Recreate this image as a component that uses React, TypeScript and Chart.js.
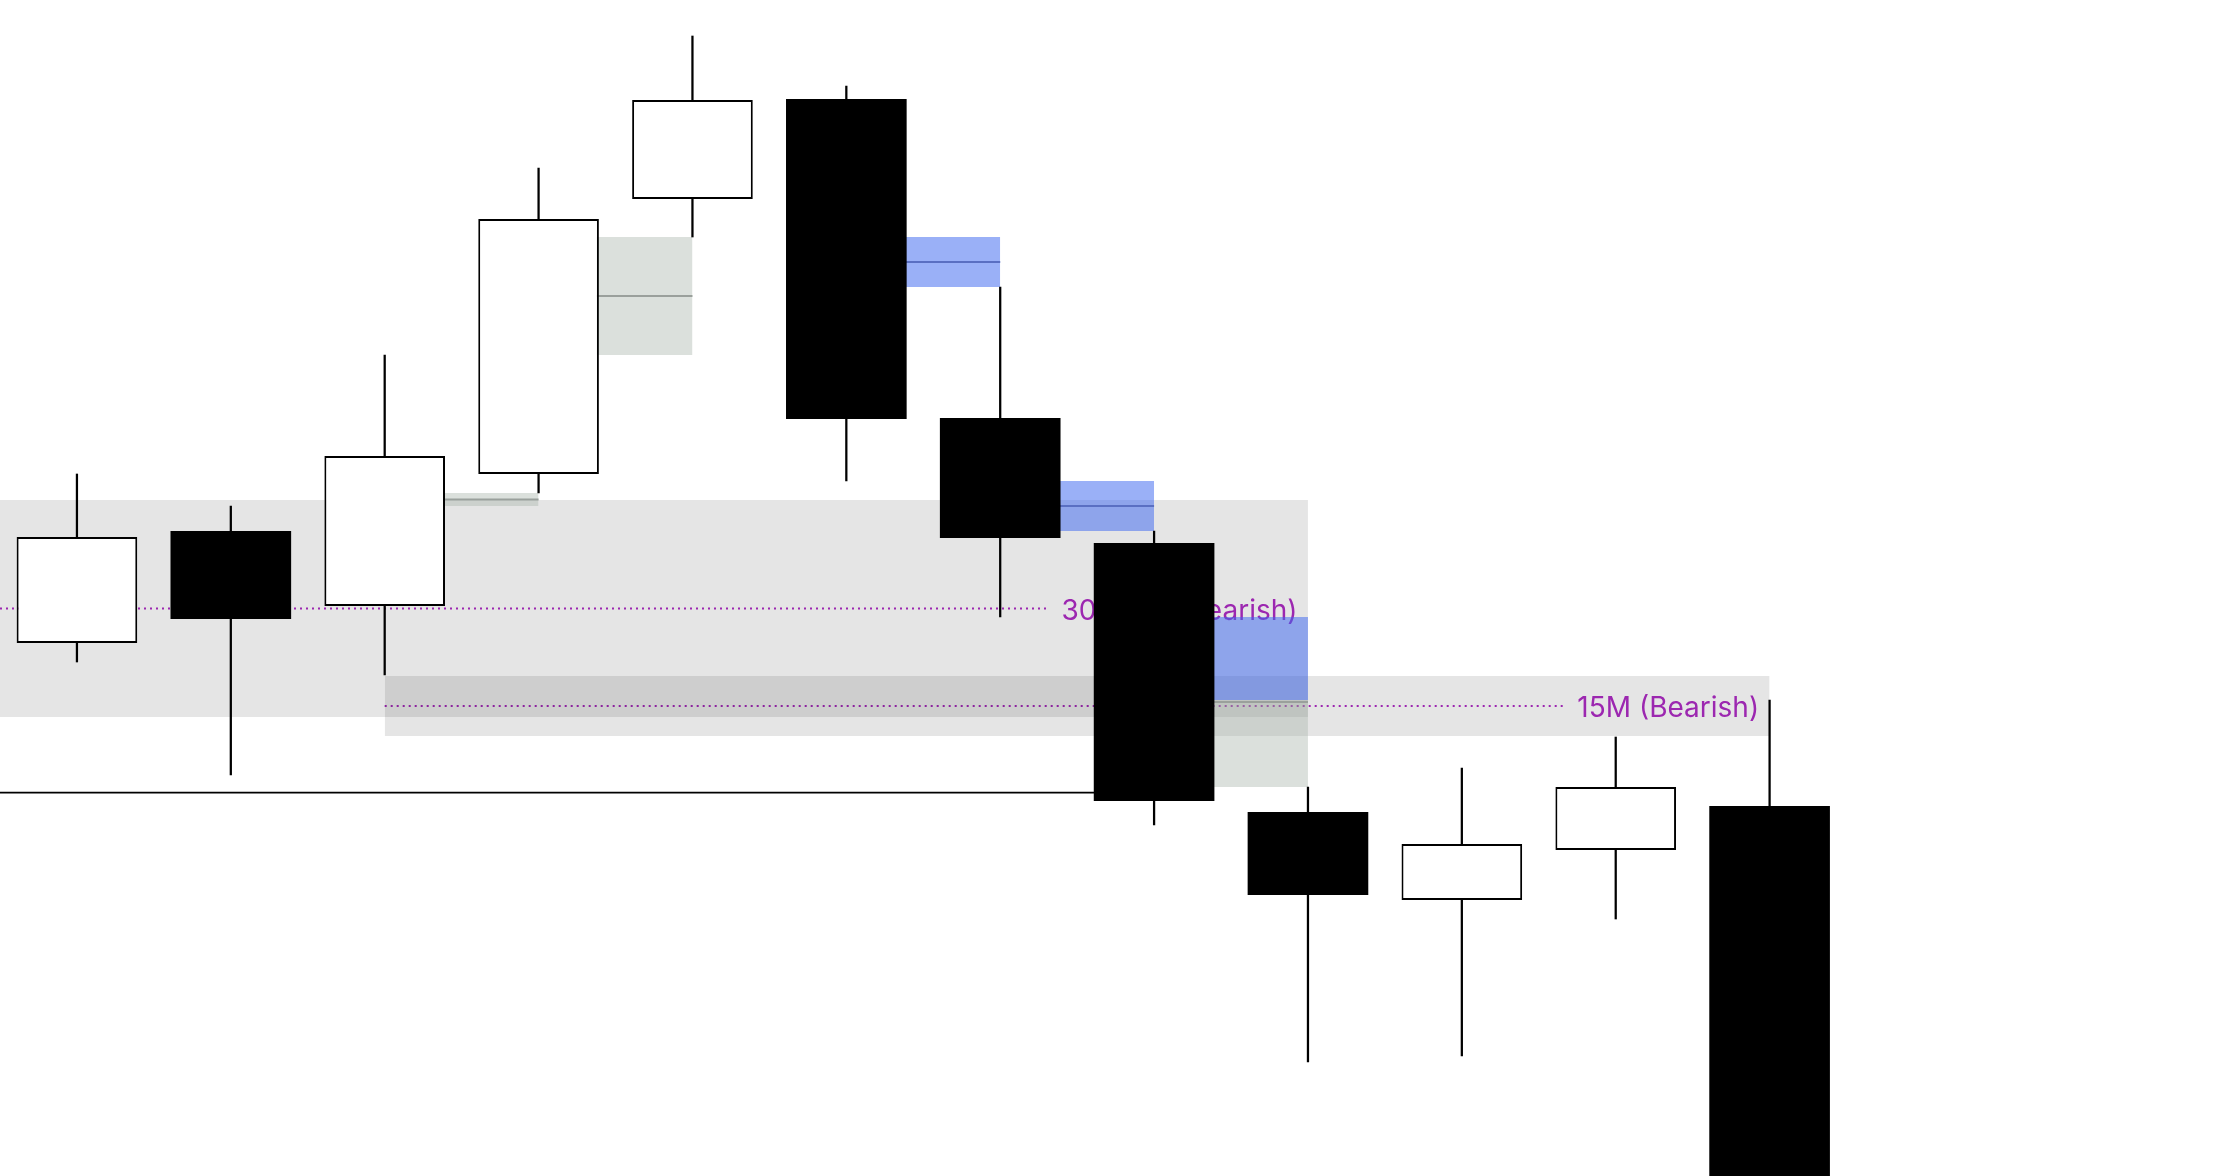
import { useEffect, useRef } from "react";
import { Chart, registerables } from "chart.js";

Chart.register(...registerables);

// ---- candle data (price units) ----
const candleIndex = [0, 1, 2, 3, 4, 5, 6, 7, 8, 9, 10, 11];
const opens = [2353.3, 2364.5, 2357.0, 2370.2, 2397.7, 2407.7, 2375.8, 2363.3, 2336.4, 2327.6, 2332.6, 2337.0];
const highs = [2370.2, 2367.0, 2382.1, 2400.8, 2414.0, 2409.0, 2388.9, 2364.5, 2338.9, 2340.8, 2343.9, 2347.6];
const lows = [2351.4, 2340.1, 2350.1, 2368.3, 2393.9, 2369.5, 2355.9, 2335.1, 2311.4, 2312.0, 2325.7, 2294.6];
const closes = [2363.9, 2355.7, 2372.0, 2395.7, 2407.6, 2375.7, 2363.8, 2337.5, 2328.1, 2333.2, 2338.9, 2297.6];

// ---- higher-timeframe zones ----
const htfLabels = ["30M OB (Bearish)", "15M (Bearish)"];
const htfFrom = [-0.5, 2];
const htfTo = [8, 11];
const htfTop = [2367.6, 2350.0];
const htfBottom = [2345.9, 2344.0];

// ---- horizontal level ----
const levelPrice = [2338.33];
const levelFrom = [-0.5];
const levelTo = [7];

// ---- view range ----
const xRange = [-0.5, 13.94];
const yRange = [2300, 2417.6];

const PURPLE = "#9c27b0";
const BAND_FILL = "rgba(0,0,0,0.1)";
const MITIGATED_FILL = "rgba(170,182,172,0.42)";
const BEAR_FILL = "rgba(62,103,240,0.52)";
const BULL_FILL = "rgba(76,175,80,0.4)";
const MITIGATED_MID = "#9aa09c";
const BEAR_MID = "#5a6fc2";
const BULL_MID = "#3e8e41";
const LABEL_FONT = '28px Inter, "Noto Sans", sans-serif';

type Gap = { from: number; to: number; top: number; bottom: number; bearish: boolean; cut: number };

function findGaps(): Gap[] {
  const out: Gap[] = [];
  for (let i = 0; i + 2 < opens.length; i++) {
    const later = candleIndex.slice(i + 3);
    if (lows[i + 2] > highs[i]) {
      const bottom = highs[i];
      const top = lows[i + 2];
      const reach = later.length ? Math.min(...later.map((k) => lows[k])) : Infinity;
      const cut = Math.max(bottom, Math.min(top, reach));
      out.push({ from: i + 1, to: i + 2, top, bottom, bearish: false, cut });
    } else if (highs[i + 2] < lows[i]) {
      const top = lows[i];
      const bottom = highs[i + 2];
      const reach = later.length ? Math.max(...later.map((k) => highs[k])) : -Infinity;
      const cut = Math.min(top, Math.max(bottom, reach));
      out.push({ from: i + 1, to: i + 2, top, bottom, bearish: true, cut });
    }
  }
  return out;
}

function boxDataset(from: number, to: number, top: number, bottom: number, color: string, order: number, extra: any = {}) {
  return {
    type: "line",
    data: [
      { x: from, y: top },
      { x: to, y: top },
    ],
    fill: { value: bottom },
    backgroundColor: color,
    borderColor: "rgba(0,0,0,0)",
    borderWidth: 0,
    pointRadius: 0,
    tension: 0,
    order,
    ...extra,
  };
}

function lineDataset(from: number, to: number, value: number, color: string, width: number, order: number) {
  return {
    type: "line",
    data: [
      { x: from, y: value },
      { x: to, y: value },
    ],
    fill: false,
    borderColor: color,
    borderWidth: width,
    pointRadius: 0,
    tension: 0,
    order,
  };
}

const bandLabelPlugin = {
  id: "bandLabels",
  afterDatasetDraw(chart: any, args: any) {
    const ds = chart.data.datasets[args.index];
    if (!ds || !ds.band) return;
    const b = ds.band;
    const xs = chart.scales.x;
    const ys = chart.scales.y;
    const ctx = chart.ctx;
    const x0 = xs.getPixelForValue(b.from);
    const x1 = xs.getPixelForValue(b.to);
    const ym = ys.getPixelForValue((b.top + b.bottom) / 2);
    ctx.save();
    ctx.font = LABEL_FONT;
    const tw = ctx.measureText(b.label).width;
    const textRight = x1 - 10.5;
    const lineEnd = textRight - tw - 14;
    ctx.strokeStyle = PURPLE;
    ctx.lineWidth = 2;
    ctx.setLineDash([2, 4]);
    ctx.beginPath();
    ctx.moveTo(Math.max(x0, chart.chartArea.left), ym);
    ctx.lineTo(lineEnd, ym);
    ctx.stroke();
    ctx.setLineDash([]);
    ctx.fillStyle = PURPLE;
    ctx.textAlign = "right";
    ctx.textBaseline = "middle";
    ctx.fillText(b.label, textRight, ym + 3);
    ctx.restore();
  },
};

export default function App() {
  const ref = useRef<HTMLCanvasElement>(null);

  useEffect(() => {
    if (!ref.current) return;
    const datasets: any[] = [];

    // candle bodies (top)
    datasets.push({
      type: "bar",
      data: candleIndex.map((i) => ({ x: i, y: [opens[i], closes[i]] })),
      backgroundColor: candleIndex.map((i) => (closes[i] >= opens[i] ? "#ffffff" : "#000000")),
      borderColor: "#000000",
      borderWidth: candleIndex.map((i) => (closes[i] >= opens[i] ? 2 : 0)),
      borderSkipped: false,
      grouped: false,
      categoryPercentage: 1,
      barPercentage: 0.784,
      order: 0,
    });
    // wicks
    datasets.push({
      type: "bar",
      data: candleIndex.map((i) => ({ x: i, y: [lows[i], highs[i]] })),
      backgroundColor: "#000000",
      borderWidth: 0,
      grouped: false,
      barThickness: 1.6,
      order: 1,
    });
    // level line
    levelPrice.forEach((v, k) => datasets.push(lineDataset(levelFrom[k], levelTo[k], v, "#000000", 1.8, 2)));

    // FVG boxes
    findGaps().forEach((g) => {
      const mitigated = g.bearish ? g.cut > g.bottom : g.cut < g.top;
      if (g.bearish) {
        if (g.cut > g.bottom) datasets.push(boxDataset(g.from, g.to, g.cut, g.bottom, MITIGATED_FILL, 4));
        if (g.top > g.cut) datasets.push(boxDataset(g.from, g.to, g.top, g.cut, BEAR_FILL, 4));
      } else {
        if (g.top > g.cut) datasets.push(boxDataset(g.from, g.to, g.top, g.cut, MITIGATED_FILL, 4));
        if (g.cut > g.bottom) datasets.push(boxDataset(g.from, g.to, g.cut, g.bottom, BULL_FILL, 4));
      }
      const midColor = mitigated ? MITIGATED_MID : g.bearish ? BEAR_MID : BULL_MID;
      datasets.push(lineDataset(g.from, g.to, (g.top + g.bottom) / 2, midColor, 2, 3));
    });

    // higher-timeframe bands (bottom)
    htfLabels.forEach((label, k) => {
      datasets.push(
        boxDataset(htfFrom[k], htfTo[k], htfTop[k], htfBottom[k], BAND_FILL, 6, {
          band: { label, from: htfFrom[k], to: htfTo[k], top: htfTop[k], bottom: htfBottom[k] },
        })
      );
    });

    const chart = new Chart(ref.current, {
      type: "bar",
      data: { datasets },
      plugins: [bandLabelPlugin],
      options: {
        responsive: false,
        animation: false,
        events: [],
        layout: { padding: 0 },
        plugins: {
          legend: { display: false },
          tooltip: { enabled: false },
          title: { display: false },
        },
        scales: {
          x: {
            type: "linear",
            min: xRange[0],
            max: xRange[1],
            display: false,
            offset: false,
            grid: { display: false },
            ticks: { autoSkip: false },
            afterBuildTicks: (s: any) => {
              s.ticks = candleIndex.map((v) => ({ value: v }));
            },
          },
          y: {
            type: "linear",
            min: yRange[0],
            max: yRange[1],
            display: false,
            beginAtZero: false,
            grid: { display: false },
          },
        },
      },
    } as any);
    return () => chart.destroy();
  }, []);

  return (
    <div style={{ position: "fixed", left: 0, top: 0, width: "2222px", height: "1176px", background: "#ffffff" }}>
      <canvas ref={ref} width={2222} height={1176} style={{ display: "block" }} />
    </div>
  );
}
